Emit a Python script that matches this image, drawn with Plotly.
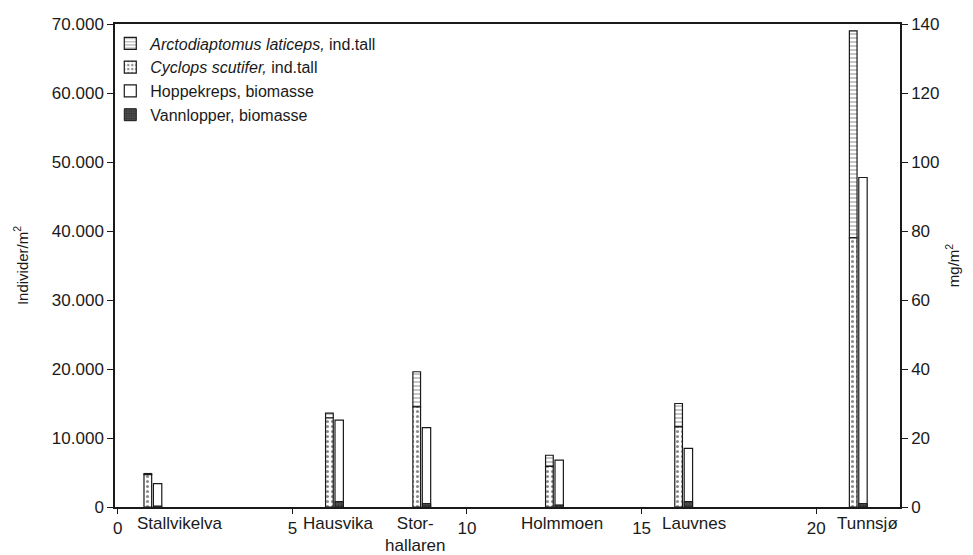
import plotly.graph_objects as go

# Stations along the river (km) and their names
stations = ["Stallvikelva", "Hausvika", "Stor-<br>hallaren", "Holmmoen", "Lauvnes", "Tunnsjø"]
station_km = [1.0, 6.2, 8.7, 12.5, 16.2, 21.2]

# Individuals per m2 (left axis)
cyclops_ind = [4700, 12900, 14500, 5900, 11600, 39000]
arcto_ind = [150, 700, 5100, 1600, 3400, 30000]

# Biomass mg/m2 (right axis)
hoppekreps_mg = [6.8, 25.2, 23.0, 13.6, 17.0, 95.5]
vannlopper_mg = [0.3, 1.6, 1.0, 0.6, 1.6, 1.0]

x_ticks = [0, 5, 10, 15, 20]
y_ticks = [0, 10000, 20000, 30000, 40000, 50000, 60000, 70000]
y2_ticks = [0, 20, 40, 60, 80, 100, 120, 140]

FONT = "Liberation Sans, Arial, sans-serif"
INK = "#1a1a1a"

fig = go.Figure()

fig.add_trace(go.Bar(
    x=station_km, y=arcto_ind, base=cyclops_ind,
    name="<i>Arctodiaptomus laticeps,</i> ind.tall",
    offset=-0.25, width=0.22,
    marker=dict(color="white", line=dict(color=INK, width=1.2),
                pattern=dict(shape="-", fgcolor=INK, bgcolor="white", size=4, solidity=0.25)),
))

fig.add_trace(go.Bar(
    x=station_km, y=cyclops_ind,
    name="<i>Cyclops scutifer,</i> ind.tall",
    offset=-0.25, width=0.22,
    marker=dict(color="white", line=dict(color=INK, width=1.2),
                pattern=dict(shape=".", fgcolor=INK, bgcolor="white", size=5, solidity=0.3)),
))

fig.add_trace(go.Bar(
    x=station_km, y=hoppekreps_mg, yaxis="y2",
    name="Hoppekreps, biomasse",
    offset=0.02, width=0.24,
    marker=dict(color="white", line=dict(color=INK, width=1.2)),
))

fig.add_trace(go.Bar(
    x=station_km, y=vannlopper_mg, yaxis="y2",
    name="Vannlopper, biomasse",
    offset=0.02, width=0.24,
    marker=dict(color="#333333", line=dict(color=INK, width=1),
                pattern=dict(shape=".", fgcolor="#111111", bgcolor="#555555", size=3, solidity=0.5)),
))

# station names under the axis
label_shift = [27, 4, -6, 8, 10, 9]
for name, km, dx in zip(stations, station_km, label_shift):
    fig.add_annotation(
        x=km, y=0, xref="x", yref="paper", yanchor="top", yshift=-5, xshift=dx,
        text=name, showarrow=False, align="center",
        font=dict(family=FONT, size=17, color=INK),
    )

fig.update_layout(
    width=973, height=555,
    barmode="overlay",
    separators=",.",
    paper_bgcolor="white",
    plot_bgcolor="white",
    margin=dict(l=115, r=73, t=24, b=48),
    font=dict(family=FONT, size=17, color=INK),
    showlegend=True,
    legend=dict(
        x=-0.006, y=0.995, xanchor="left", yanchor="top",
        bgcolor="rgba(0,0,0,0)", traceorder="normal",
        font=dict(family=FONT, size=16, color=INK),
        itemwidth=30, tracegroupgap=0,
    ),
    xaxis=dict(
        range=[-0.08, 22.4], tickvals=x_ticks, ticktext=[str(t) for t in x_ticks],
        showline=True, linecolor=INK, linewidth=1.5, mirror=True,
        ticks="outside", ticklen=5, tickcolor=INK, showgrid=False, zeroline=False,
        tickfont=dict(size=17),
    ),
    yaxis=dict(
        range=[0, 70000], tickvals=y_ticks, tickformat=",d",
        showline=True, linecolor=INK, linewidth=1.5,
        ticks="outside", ticklen=6, tickcolor=INK, showgrid=False, zeroline=False,
        title=dict(text="Individer/m<sup>2</sup>", font=dict(size=15), standoff=20),
        tickfont=dict(size=17),
    ),
    yaxis2=dict(
        range=[0, 140], tickvals=y2_ticks, overlaying="y", side="right",
        showline=True, linecolor=INK, linewidth=1.5,
        ticks="outside", ticklen=6, tickcolor=INK, showgrid=False, zeroline=False,
        title=dict(text="mg/m<sup>2</sup>", font=dict(size=15), standoff=10),
        tickfont=dict(size=17),
    ),
)

# drop the default page margin so the figure sits at the window corner
fig.write_html("out.html", config={"displayModeBar": False},
               post_script="document.body.style.margin='0';")
